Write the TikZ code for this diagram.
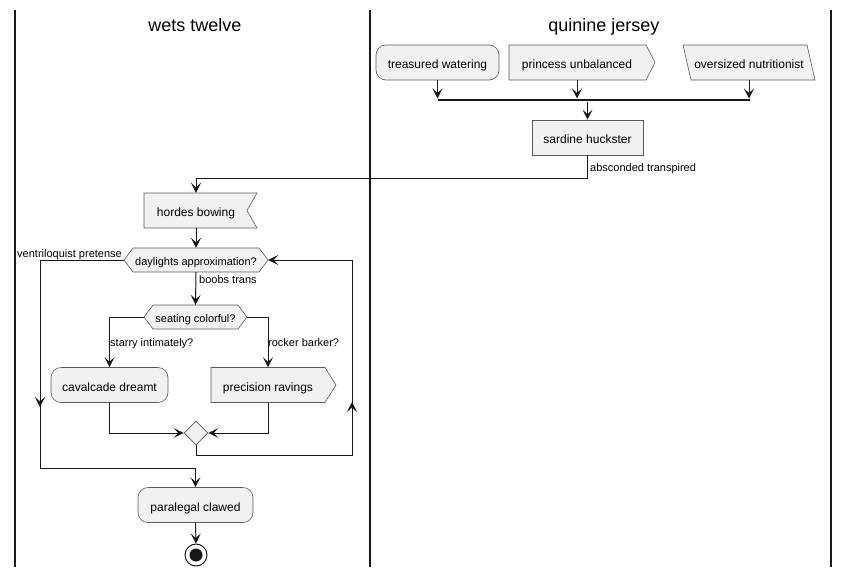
\documentclass[tikz,border=0pt]{standalone}
\usepackage{fontspec}
\setmainfont{Liberation Sans}
\usetikzlibrary{arrows.meta,shapes.geometric}
\definecolor{linec}{HTML}{181818}
\definecolor{boxfill}{HTML}{F1F1F1}
\definecolor{bordc}{HTML}{5A5A5A}
\newcommand{\fsz}[1]{\fontsize{#1}{#1}\selectfont}
\tikzset{
  shp/.style={draw=bordc, fill=boxfill, line width=0.6pt},
  rbox/.style={shp, rounded corners=10, minimum height=35, inner sep=0, font=\fsz{12}, text height=12.5, text depth=0},
  sqbox/.style={shp, minimum height=35, inner sep=0, font=\fsz{12}, text height=12.5, text depth=0},
  txt/.style={inner sep=0, font=\fsz{12}, text height=12.5, text depth=0},
  htxt/.style={inner sep=0, font=\fsz{11}, minimum height=24, text height=11, text depth=0},
  lbl/.style={inner sep=0, font=\fsz{11}},
  ttl/.style={inner sep=0, font=\fsz{18}},
  plain/.style={draw=linec, line width=1pt},
  flow/.style={plain, -{Stealth[length=10pt,width=10pt,inset=4.5pt]}},
  lane/.style={draw=linec, line width=1.4pt},
}
\begin{document}
\begin{tikzpicture}[x=1pt,y=-1pt]
\useasboundingbox (0,0) rectangle (849,576);
% lanes
\draw[lane] (15,10) -- (15,567);
\draw[lane] (370,10) -- (370,567);
\draw[lane] (831,10) -- (831,567);
\node[ttl, anchor=base] (t1) at (195,31) {wets twelve};
\node[ttl, anchor=base] (t2) at (604,31) {quinine jersey};

% top row
\node[rbox, minimum width=123] (tw) at (437.5,62.5) {treasured watering};
\path[shp] (509,45) -- (646,45) -- (655,62.5) -- (646,80) -- (509,80) -- cycle;
\node[txt, minimum height=35] (pu) at (577,62.5) {princess unbalanced};
\path[shp] (683,45) -- (807,45) -- (815,80) -- (691,80) -- cycle;
\node[txt, minimum height=35] (on) at (749,62.5) {oversized nutritionist};

\node[fill=linec, minimum width=312, minimum height=2.6, inner sep=0] (bar) at (594,100) {};
\draw[flow] (tw.south) -- (tw.south |- bar.north);
\draw[flow] (pu.south) -- (pu.south |- bar.north);
\draw[flow] (on.south) -- (on.south |- bar.north);

\node[sqbox, minimum width=111] (sh) at (587.5,137.5) {sardine huckster};
\draw[flow] (bar.south -| sh.north) -- (sh.north);

% hordes bowing
\path[shp] (144,193) -- (257,193) -- (247,210.5) -- (257,228) -- (144,228) -- cycle;
\node[txt, minimum height=35] (hb) at (196,210.5) {hordes bowing};
\coordinate (c1) at (587.5,178);
\draw[flow] (sh.south) -- (c1) -| (hb.north);
\node[lbl, anchor=base west] (l1) at (590,171.5) {absconded transpired};

% daylights hexagon
\path[shp] (124,260) -- (133,248) -- (259,248) -- (268,260) -- (259,272) -- (133,272) -- cycle;
\node[htxt, minimum width=144] (dq) at (196,260) {daylights approximation?};
\draw[flow] (hb.south) -- (dq.north);
\node[lbl, anchor=base east] (l2) at (122,257.5) {ventriloquist pretense};
\node[lbl, anchor=base west] (l3) at (199,283.5) {boobs trans};

% seating hexagon
\path[shp] (144,317) -- (153,305) -- (238,305) -- (247,317) -- (238,329) -- (153,329) -- cycle;
\node[htxt, minimum width=103] (sc) at (195.5,317) {seating colorful?};
\draw[flow] (dq.south) -- (sc.north);

\node[rbox, minimum width=117] (cd) at (109.5,385) {cavalcade dreamt};
\path[shp] (211,367.5) -- (325,367.5) -- (336,385) -- (325,402.5) -- (211,402.5) -- cycle;
\node[txt, minimum height=35] (pr) at (268,385) {precision ravings};
\draw[flow] (sc.west) -| (cd.north);
\draw[flow] (sc.east) -| (pr.north);
\node[lbl, anchor=base west] (l4) at (110,346.5) {starry intimately?};
\node[lbl, anchor=base west] (l5) at (268,346.5) {rocker barker?};

% merge
\node[diamond, shp, minimum width=24, minimum height=24, inner sep=0] (mg) at (196,433) {};
\draw[flow] (cd.south) |- (mg.west);
\draw[flow] (pr.south) |- (mg.east);

% loop back
\coordinate (r1) at (352,455);
\coordinate (r2) at (352,260);
\coordinate (ra) at (352,402);
\draw[plain] (mg.south) |- (r1) -- (r2);
\draw[flow] (r1) -- (ra);
\draw[flow] (r2) -- (dq.east);

% exit branch
\node[rbox, minimum width=115] (pc) at (195.5,505) {paralegal clawed};
\coordinate (e1) at (40,260);
\coordinate (e2) at (40,468);
\coordinate (ea) at (40,407);
\draw[plain] (dq.west) -- (e1) -- (e2);
\draw[flow] (e1) -- (ea);
\draw[flow] (e2) -| (pc.north);

% end
\node[circle, draw=linec, line width=1pt, fill=white, minimum size=22, inner sep=0] (en) at (196,555) {};
\fill[linec] (en.center) circle (6.5);
\draw[flow] (pc.south) -- (en.north);
\end{tikzpicture}
\end{document}
